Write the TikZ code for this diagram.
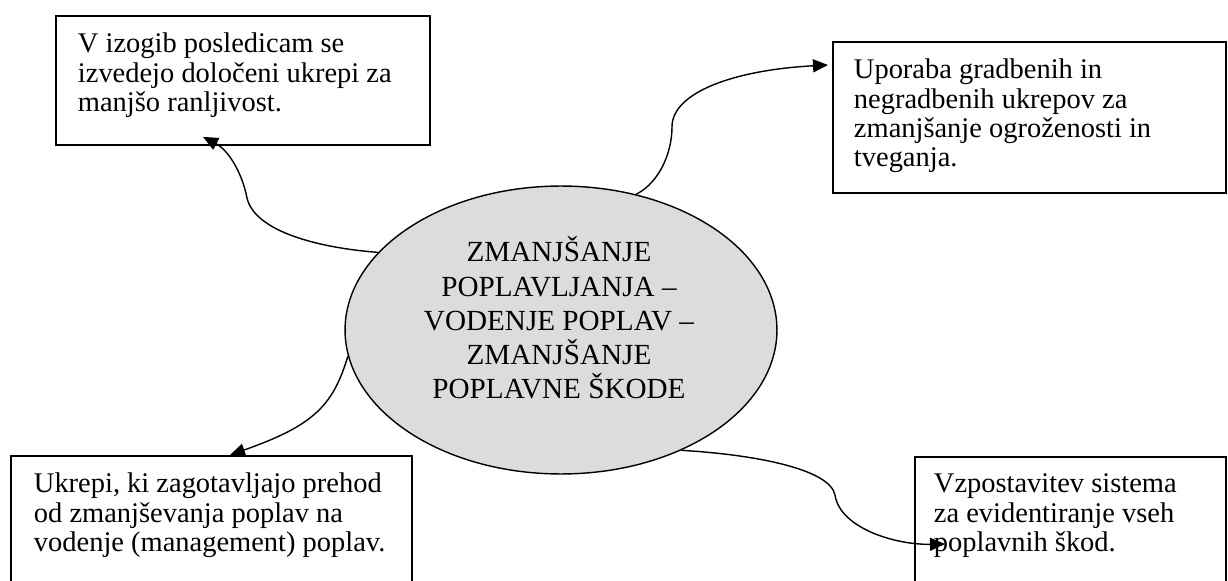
\documentclass[tikz,border=0pt]{standalone}
\usepackage{fontspec}
\setmainfont{Liberation Serif}
\usetikzlibrary{shapes.geometric,arrows.meta}
\definecolor{ellgray}{HTML}{DCDCDC}

\begin{document}
\begin{tikzpicture}[x=0.02cm,y=-0.02cm,
infobox/.style={draw, line width=1.1pt, anchor=north west, inner ysep=0.34cm,
  font=\fontsize{16.2}{16.7}\selectfont},
centre/.style={ellipse, draw, line width=0.8pt, fill=ellgray, inner sep=0pt,
  minimum width=8.64cm, minimum height=5.76cm},
centretext/.style={align=center, inner sep=0pt, font=\fontsize{16.6}{19.5}\selectfont},
link/.style={line width=0.8pt, -{Triangle[length=0.3cm,width=0.26cm]}}]
\def\boxtext#1#2#3{\parbox[t][#2][t]{#1}{\raggedright #3}}

\useasboundingbox (0,0) rectangle (1228,581);

% the ellipse in the middle
\node[centre] (mid) at (561,330) {};
\node[centretext] (midtext) at (559,318) {ZMANJŠANJE\\ POPLAVLJANJA --\\ VODENJE POPLAV --\\ ZMANJŠANJE\\ POPLAVNE ŠKODE};

% four boxes round it
\node[infobox, inner xsep=0.44cm] (tl) at (55,15)
  {\boxtext{6.6cm}{1.9cm}{V izogib posledicam se\\ izvedejo določeni ukrepi za\\ manjšo ranljivost.}};
\node[infobox, inner xsep=0.42cm] (tr) at (832,41)
  {\boxtext{7.02cm}{2.34cm}{Uporaba gradbenih in\\ negradbenih ukrepov za\\ zmanjšanje ogroženosti in\\ tveganja.}};
\node[infobox, inner xsep=0.46cm] (bl) at (10,455)
  {\boxtext{7.1cm}{2.4cm}{Ukrepi, ki zagotavljajo prehod\\ od zmanjševanja poplav na\\ vodenje (management) poplav.}};
\node[infobox, inner xsep=0.38cm] (br) at (914,456)
  {\boxtext{5.46cm}{2.4cm}{Vzpostavitev sistema\\ za evidentiranje vseh\\ poplavnih škod.}};

% curved arrows
\draw[link] (mid.157.7) .. controls (320,248) and (255,232) .. (247,198)
  .. controls (242,172) and (228,150) .. ([shift={(148,-9)}]tl.south west);
\draw[link] (mid.61.6) .. controls (660,182) and (672,152) .. (672,127)
  .. controls (672,92) and (735,70) .. ([shift={(-4,24)}]tr.north west);
\draw[link] (mid.187.7) .. controls (333,405) and (315,425) .. ([shift={(220,0)}]bl.north west);
\draw[link] (mid.315.7) .. controls (760,455) and (830,470) .. (835,495)
  .. controls (840,528) and (895,545) .. ([shift={(31,88)}]br.north west);

\end{tikzpicture}
\end{document}
